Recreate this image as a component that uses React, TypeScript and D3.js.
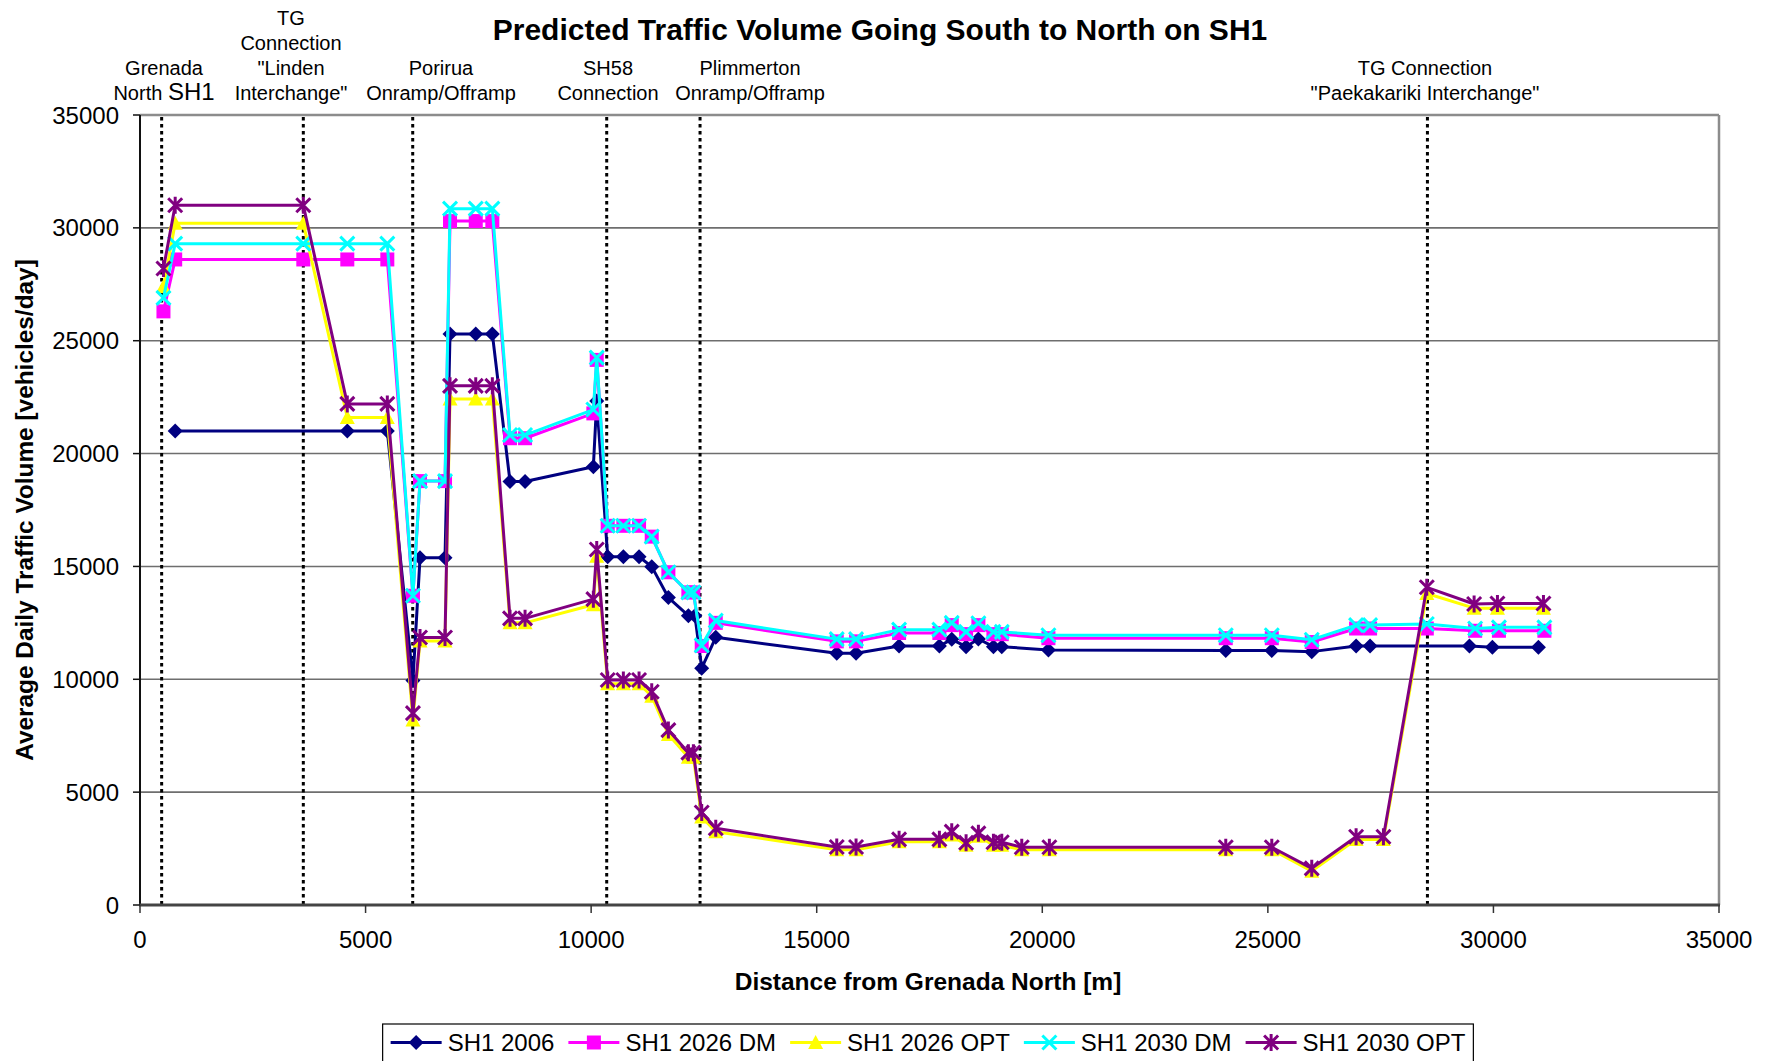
import React from 'react';
import * as d3 from 'd3';

// ---------- data ----------
const seriesNames = ['SH1 2006', 'SH1 2026 DM', 'SH1 2026 OPT', 'SH1 2030 DM', 'SH1 2030 OPT'];

const x2006 = [780, 4595, 5482, 6050, 6207, 6761, 6872, 7442, 7810, 8202, 8535, 10049, 10124, 10367, 10714, 11062, 11343, 11712, 12155, 12300, 12451, 12762, 15444, 15872, 16826, 17719, 17993, 18311, 18584, 18917, 19102, 20136, 24067, 25087, 25973, 26956, 27266, 29468, 29977, 30997];
const y2006 = [21000, 21000, 21000, 9950, 15380, 15380, 25300, 25300, 25300, 18760, 18760, 19420, 22330, 15430, 15430, 15430, 14990, 13620, 12820, 12820, 10490, 11860, 11150, 11150, 11475, 11475, 11770, 11445, 11785, 11445, 11445, 11300, 11270, 11270, 11225, 11475, 11475, 11475, 11415, 11415];

const xDM = [520, 780, 3620, 4595, 5482, 6050, 6207, 6761, 6872, 7442, 7810, 8202, 8535, 10049, 10124, 10367, 10714, 11062, 11343, 11712, 12155, 12266, 12451, 12762, 15444, 15872, 16826, 17719, 17993, 18311, 18584, 18917, 19102, 20136, 24067, 25087, 25973, 26956, 27266, 28523, 29595, 30122, 31130];
const y2026DM = [26300, 28600, 28600, 28600, 28600, 13700, 18780, 18780, 30300, 30300, 30300, 20680, 20680, 21780, 24150, 16800, 16800, 16800, 16320, 14740, 13850, 13850, 11475, 12500, 11680, 11680, 12050, 12050, 12400, 12000, 12400, 12000, 12000, 11820, 11820, 11820, 11650, 12250, 12250, 12250, 12150, 12150, 12150];
const y2030DM = [26900, 29300, 29300, 29300, 29300, 13700, 18780, 18780, 30850, 30850, 30850, 20820, 20820, 21950, 24250, 16800, 16800, 16800, 16320, 14740, 13850, 13850, 11500, 12600, 11780, 11780, 12200, 12200, 12500, 12100, 12480, 12100, 12100, 11950, 11950, 11950, 11750, 12400, 12400, 12450, 12250, 12300, 12300];

const xOPT = [520, 780, 3620, 4595, 5482, 6050, 6207, 6761, 6872, 7442, 7810, 8202, 8535, 10049, 10124, 10367, 10714, 11062, 11343, 11712, 12155, 12266, 12451, 12762, 15444, 15872, 16826, 17719, 17993, 18311, 18584, 18917, 19102, 19545, 20157, 24067, 25087, 25973, 26956, 27562, 28523, 29572, 30089, 31109];
const y2026OPT = [27400, 30200, 30200, 21600, 21600, 8200, 11700, 11700, 22420, 22420, 22420, 12500, 12500, 13300, 15450, 9800, 9800, 9800, 9250, 7550, 6550, 6550, 3900, 3250, 2450, 2450, 2800, 2800, 3100, 2650, 3050, 2650, 2650, 2450, 2450, 2450, 2450, 1500, 2900, 2900, 13800, 13150, 13150, 13150];
const y2030OPT = [28200, 31000, 31000, 22200, 22200, 8500, 11850, 11850, 23000, 23000, 23000, 12700, 12700, 13550, 15750, 9970, 9970, 9970, 9450, 7750, 6750, 6750, 4100, 3400, 2570, 2570, 2910, 2910, 3250, 2760, 3175, 2780, 2780, 2560, 2560, 2560, 2560, 1625, 3025, 3025, 14075, 13335, 13360, 13360];

const seriesX = [x2006, xDM, xOPT, xDM, xOPT];
const seriesY = [y2006, y2026DM, y2026OPT, y2030DM, y2030OPT];

const xTicks = [0, 5000, 10000, 15000, 20000, 25000, 30000, 35000];
const yTicks = [0, 5000, 10000, 15000, 20000, 25000, 30000, 35000];

// landmark (dotted) lines
const landmarkX = [480, 3620, 6045, 10345, 12414, 28537];
const landmarkLabels = [
  ['Grenada', 'North SH1'],
  ['TG', 'Connection', '"Linden', 'Interchange"'],
  ['Porirua', 'Onramp/Offramp'],
  ['SH58', 'Connection'],
  ['Plimmerton', 'Onramp/Offramp'],
  ['TG Connection', '"Paekakariki Interchange"'],
];

const title = 'Predicted Traffic Volume Going South to North on SH1';
const xTitle = 'Distance from Grenada North [m]';
const yTitle = 'Average Daily Traffic Volume [vehicles/day]';

// ---------- styles ----------
const colors = ['#000080', '#FF00FF', '#FFFF00', '#00FFFF', '#800080'];
const markers = ['diamond', 'square', 'triangle', 'x', 'star'];
const FONT = "'Liberation Sans', Arial, Helvetica, sans-serif";

const W = 1769;
const H = 1061;
const PL = 140, PR = 1719, PT = 115, PB = 905;
// label anchor x positions (pixels) for top annotations
const labelCx = [164, 291, 441, 608, 750, 1425];

function Marker({ kind, x, y, color }: { kind: string; x: number; y: number; color: string }) {
  const s = 7.5;
  switch (kind) {
    case 'diamond':
      return <path d={`M${x},${y - s}L${x + s},${y}L${x},${y + s}L${x - s},${y}Z`} fill={color} />;
    case 'square':
      return <rect x={x - 7} y={y - 7} width={14} height={14} fill={color} />;
    case 'triangle':
      return <path d={`M${x},${y - 7.5}L${x + 7.5},${y + 6.5}L${x - 7.5},${y + 6.5}Z`} fill={color} />;
    case 'x':
      return (
        <path d={`M${x - 7},${y - 7}L${x + 7},${y + 7}M${x - 7},${y + 7}L${x + 7},${y - 7}`} stroke={color} strokeWidth={3} fill="none" />
      );
    case 'star':
      return (
        <path d={`M${x - 7},${y - 7}L${x + 7},${y + 7}M${x - 7},${y + 7}L${x + 7},${y - 7}M${x},${y - 8.5}L${x},${y + 8.5}`} stroke={color} strokeWidth={3} fill="none" />
      );
  }
  return null;
}

function measure(text: string, font: string): number {
  const c = document.createElement('canvas');
  const ctx = c.getContext('2d');
  if (!ctx) return text.length * 12;
  ctx.font = font;
  return ctx.measureText(text).width;
}

export default function App() {
  const xs = d3.scaleLinear().domain([0, 35000]).range([PL, PR]);
  const ys = d3.scaleLinear().domain([0, 35000]).range([PB, PT]);
  const line = d3.line<[number, number]>().x(d => xs(d[0])).y(d => ys(d[1]));

  // legend layout
  const legFont = `24px ${FONT}`;
  const textW = seriesNames.map(n => measure(n, legFont));
  const sample = 51, gapT = 6, gapItem = 14, pad = 8;
  const legW = pad * 2 + seriesNames.length * (sample + gapT) + d3.sum(textW) + gapItem * (seriesNames.length - 1);
  const legX0 = 928 - legW / 2;
  const itemX: number[] = [];
  let cur = legX0 + pad;
  textW.forEach(w => { itemX.push(cur); cur += sample + gapT + w + gapItem; });
  const legY = 1042.5;

  return (
    <svg width={W} height={H} style={{ position: 'absolute', left: 0, top: 0, background: '#fff' }} fontFamily={FONT}>
      <rect x={0} y={0} width={W} height={H} fill="#fff" />
      {/* title */}
      <text x={880} y={39.5} textAnchor="middle" fontSize={30} fontWeight="bold">{title}</text>

      {/* gridlines */}
      {yTicks.filter(t => t > 0 && t < 35000).map(t => (
        <line key={t} x1={PL} x2={PR} y1={ys(t)} y2={ys(t)} stroke="#6e6e6e" strokeWidth={1.6} />
      ))}
      {/* plot frame */}
      <line x1={PL} x2={PR} y1={PT} y2={PT} stroke="#8c8c8c" strokeWidth={2.5} />
      <line x1={PR} x2={PR} y1={PT} y2={PB} stroke="#8c8c8c" strokeWidth={2.5} />

      {/* landmark dotted lines */}
      {landmarkX.map((lx, i) => (
        <line key={i} x1={xs(lx)} x2={xs(lx)} y1={PT + 2} y2={PB} stroke="#000" strokeWidth={3} strokeDasharray="3.5,3.5" />
      ))}

      {/* axes */}
      <line x1={PL} x2={PL} y1={PT} y2={PB} stroke="#111" strokeWidth={2} />
      <line x1={PL - 1} x2={PR + 1} y1={PB} y2={PB} stroke="#444" strokeWidth={3} />
      {yTicks.map(t => (
        <g key={t}>
          <line x1={PL - 7} x2={PL} y1={ys(t)} y2={ys(t)} stroke="#111" strokeWidth={1.5} />
          <text x={119} y={ys(t) + 8.5} textAnchor="end" fontSize={24}>{t}</text>
        </g>
      ))}
      {xTicks.map(t => (
        <g key={t}>
          <line x1={xs(t)} x2={xs(t)} y1={PB} y2={PB + 8} stroke="#333" strokeWidth={1.5} />
          <text x={xs(t)} y={947.5} textAnchor="middle" fontSize={24}>{t}</text>
        </g>
      ))}
      <text x={928} y={990} textAnchor="middle" fontSize={24.5} fontWeight="bold">{xTitle}</text>
      <text transform={`translate(33,510) rotate(-90)`} textAnchor="middle" fontSize={24.4} fontWeight="bold">{yTitle}</text>

      {/* series */}
      {seriesNames.map((name, si) => {
        const pts: [number, number][] = seriesX[si].map((xv, i) => [xv, seriesY[si][i]]);
        return (
          <g key={name}>
            <path d={line(pts) || ''} fill="none" stroke={colors[si]} strokeWidth={3} strokeLinejoin="round" />
            {pts.map((p, i) => (
              <Marker key={i} kind={markers[si]} x={xs(p[0])} y={ys(p[1])} color={colors[si]} />
            ))}
          </g>
        );
      })}

      {/* top landmark labels */}
      {landmarkLabels.map((lines, li) => {
        const n = lines.length;
        const lastBase = 100;
        return (
          <g key={li}>
            {lines.map((t, k) => {
              const base = lastBase - (n - 1 - k) * 25;
              if (t === 'North SH1') {
                return (
                  <text key={k} x={labelCx[li]} y={base} textAnchor="middle" fontSize={20}>
                    North <tspan fontSize={24}>SH1</tspan>
                  </text>
                );
              }
              return (
                <text key={k} x={labelCx[li]} y={base} textAnchor="middle" fontSize={20}>{t}</text>
              );
            })}
          </g>
        );
      })}

      {/* legend */}
      <rect x={legX0} y={1024} width={legW} height={50} fill="#fff" stroke="#000" strokeWidth={1.2} />
      {seriesNames.map((name, si) => (
        <g key={name}>
          <line x1={itemX[si]} x2={itemX[si] + sample} y1={legY} y2={legY} stroke={colors[si]} strokeWidth={3} />
          <Marker kind={markers[si]} x={itemX[si] + sample / 2} y={legY} color={colors[si]} />
          <text x={itemX[si] + sample + gapT} y={legY + 8.5} fontSize={24}>{name}</text>
        </g>
      ))}
    </svg>
  );
}
